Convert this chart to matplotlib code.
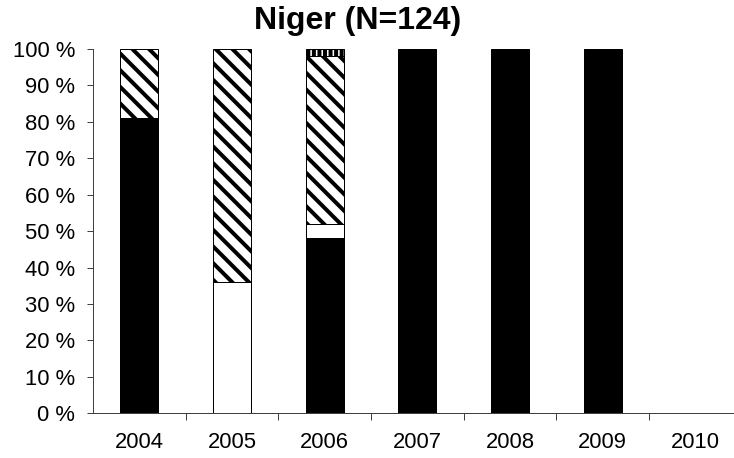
import numpy as np
import matplotlib
matplotlib.use("Agg")
import matplotlib.pyplot as plt

years = ["2004", "2005", "2006", "2007", "2008", "2009", "2010"]
black_vals = [81, 0, 48, 100, 100, 100, 0]
white_vals = [0, 36, 4, 0, 0, 0, 0]
diag_vals = [19, 64, 46, 0, 0, 0, 0]
vert_vals = [0, 0, 2, 0, 0, 0, 0]
y_ticks = [0, 10, 20, 30, 40, 50, 60, 70, 80, 90, 100]
y_labels = [f"{v} %" for v in y_ticks]
title = "Niger (N=124)"

DPI = 100
px = 72.0 / DPI  # points per pixel
plt.rcParams['font.family'] = ['Liberation Sans', 'DejaVu Sans']
plt.rcParams['hatch.linewidth'] = 4.0 * px

fig = plt.figure(figsize=(734 / DPI, 458 / DPI), dpi=DPI)
ax = fig.add_axes([93 / 734, 1 - 413.3 / 458, 648.7 / 734, (413.3 - 49) / 458])

x = np.arange(len(years))
width = 0.41
series = [
    (black_vals, dict(color="black", edgecolor="black")),
    (white_vals, dict(color="white", edgecolor="black")),
    (diag_vals, dict(color="white", edgecolor="black", hatch="\\\\")),
    (vert_vals, dict(color="white", edgecolor="black", hatch="|||")),
]
bottom = np.zeros(len(years))
for vals, style in series:
    vals = np.array(vals, dtype=float)
    m = vals > 0
    ax.bar(x[m], vals[m], width, bottom=bottom[m], linewidth=1.0 * px, **style)
    bottom += vals

ax.set_xlim(-0.5, len(years) - 0.5)
ax.set_ylim(0, 100)
ax.set_yticks(y_ticks)
ax.set_yticklabels(y_labels, fontsize=22 * px)
ax.set_xticks(x)
ax.set_xticklabels(years, fontsize=22 * px)
ax.set_xticks(x[:-1] + 0.5, minor=True)
ax.tick_params(axis='x', which='major', length=0, pad=19 * px)
ax.tick_params(axis='x', which='minor', length=7 * px, width=1 * px, color='#404040', direction='out')
ax.tick_params(axis='y', length=6 * px, width=1 * px, color='#404040', pad=12 * px)
for s in ['top', 'right']:
    ax.spines[s].set_visible(False)
for s in ['left', 'bottom']:
    ax.spines[s].set_color('#404040')
    ax.spines[s].set_linewidth(1 * px)

fig.text(358 / 734, 1 - 28.5 / 458, title, ha='center', va='baseline',
         fontsize=32 * px, fontweight='bold')

fig.savefig("out.png", dpi=DPI)
